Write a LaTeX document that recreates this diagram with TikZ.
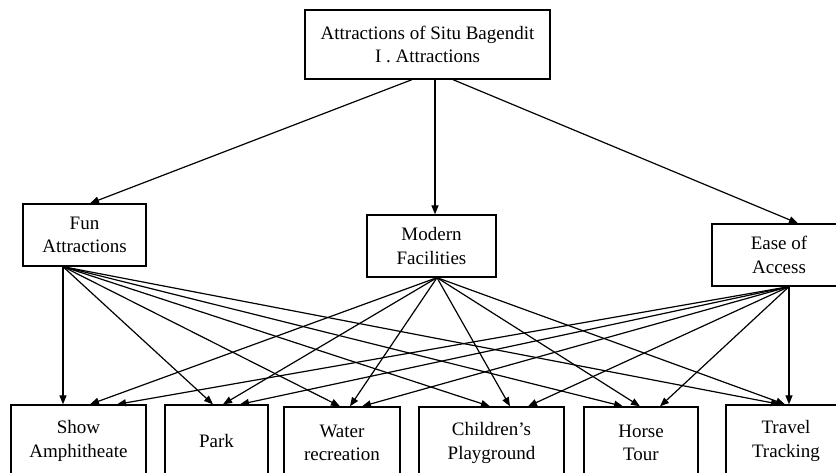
\documentclass[tikz,border=0pt]{standalone}
\usepackage{fontspec}
\setmainfont{Liberation Serif}
\usepackage{tikz}
\usetikzlibrary{arrows.meta}

\begin{document}
\begin{tikzpicture}[
  x=1pt, y=-1pt,
  box/.style={draw, line width=1.3pt, align=center, inner sep=2pt, font=\fontsize{19}{23.5}\selectfont},
  leaf/.style={box, minimum height=72pt},
  arr/.style={-{Triangle[length=9pt,width=7pt]}, line width=1.2pt}
]

\useasboundingbox (0,0) rectangle (836,473);
\clip (0,0) rectangle (836,473);

\node[box, minimum width=245pt, minimum height=69pt] at (427.5,44.5) (top) {Attractions of Situ Bagendit\\I . Attractions};

\node[box, minimum width=123pt, minimum height=62pt] at (84.5,235) (fun) {Fun\\Attractions};
\node[box, minimum width=129pt, minimum height=62pt] at (431.5,246) (modern) {Modern\\Facilities};
\node[box, minimum width=134pt, minimum height=62pt] at (779,255) (ease) {Ease of\\Access};

\node[leaf, minimum width=135pt] at (78.5,441) (show) {Show\\Amphitheate};
\node[leaf, minimum width=103pt] at (216.5,441) (park) {Park};
\node[leaf, minimum width=116pt] at (342,443) (water) {Water\\recreation};
\node[leaf, minimum width=145pt] at (491.5,443) (play) {Children's\\Playground};
\node[leaf, minimum width=114pt] at (641,443) (horse) {Horse\\Tour};
\node[leaf, minimum width=120pt] at (786,441) (travel) {Travel\\Tracking};

\draw[arr] ([xshift=-15.5pt]top.south) -- ([xshift=5.5pt]fun.north);
\draw[arr] ([xshift=7.5pt]top.south) -- ([xshift=3.5pt]modern.north);
\draw[arr] ([xshift=25.5pt]top.south) -- ([xshift=19pt]ease.north);

\draw[arr] ([xshift=-21.5pt]fun.south) -- ([xshift=-15.5pt]show.north);
\draw[arr] ([xshift=-21.5pt]fun.south) -- ([xshift=-3.5pt]park.north);
\draw[arr] ([xshift=-21.5pt]fun.south) -- ([xshift=-2pt]water.north);
\draw[arr] ([xshift=-21.5pt]fun.south) -- ([xshift=-1.5pt]play.north);
\draw[arr] ([xshift=-21.5pt]fun.south) -- ([xshift=-18pt]horse.north);
\draw[arr] ([xshift=-21.5pt]fun.south) -- ([xshift=-6pt]travel.north);

\draw[arr] ([xshift=5.5pt]modern.south) -- ([xshift=11.5pt]show.north);
\draw[arr] ([xshift=5.5pt]modern.south) -- ([xshift=6.5pt]park.north);
\draw[arr] ([xshift=5.5pt]modern.south) -- ([xshift=8pt]water.north);
\draw[arr] ([xshift=5.5pt]modern.south) -- ([xshift=18.5pt]play.north);
\draw[arr] ([xshift=5.5pt]modern.south) -- ([xshift=-1pt]horse.north);
\draw[arr] ([xshift=5.5pt]modern.south) -- ([xshift=-1pt]travel.north);

\draw[arr] ([xshift=10pt]ease.south) -- ([xshift=38.5pt]show.north);
\draw[arr] ([xshift=10pt]ease.south) -- ([xshift=23.5pt]park.north);
\draw[arr] ([xshift=10pt]ease.south) -- ([xshift=20pt]water.north);
\draw[arr] ([xshift=10pt]ease.south) -- ([xshift=36.5pt]play.north);
\draw[arr] ([xshift=10pt]ease.south) -- ([xshift=19pt]horse.north);
\draw[arr] ([xshift=10pt]ease.south) -- ([xshift=3pt]travel.north);

\end{tikzpicture}
\end{document}
